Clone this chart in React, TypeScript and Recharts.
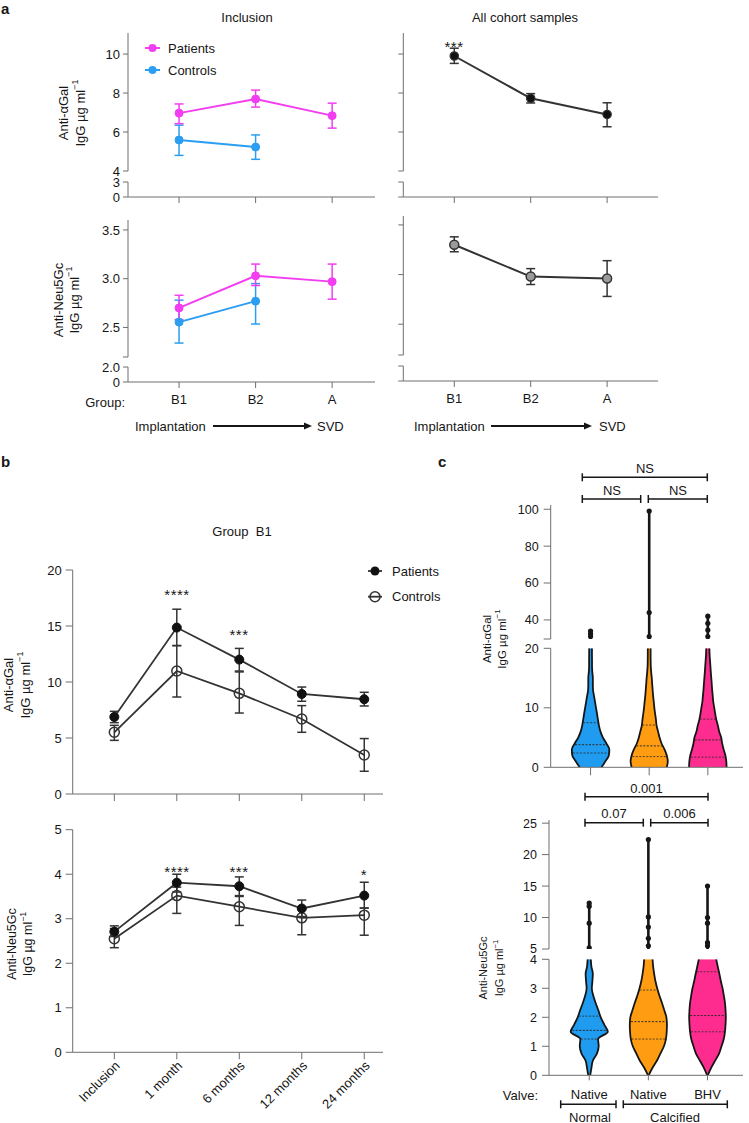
import React from 'react';
import { ComposedChart, Line, Area, Scatter, XAxis, YAxis, ErrorBar, ReferenceLine } from 'recharts';

const FONT = '"Liberation Sans", Arial, Helvetica, sans-serif';
const INK = '#161616';
const AXIS = '#6e6e6e';
const DARK = '#333333';
const MAGENTA = '#f23ef0';
const SKY = '#2b9ef2';
const V_BLUE = '#1f9bf0';
const V_ORANGE = '#ff9c12';
const V_PINK = '#ff2c90';
const TICK = { fill: INK, fontSize: 13, fontFamily: FONT };
const TICK_C = { fill: INK, fontSize: 12.5, fontFamily: FONT };

// ---- panel a: inclusion / all cohort samples ----
const groupsA = ['B1', 'B2', 'A'];
const patientsGal = [6.97, 7.69, 6.84];
const patientsGalLow = [6.43, 7.28, 6.2];
const patientsGalHigh = [7.44, 8.15, 7.48];
const controlsGal = [5.59, 5.23, null];
const controlsGalLow = [4.8, 4.6, null];
const controlsGalHigh = [6.35, 5.85, null];
const cohortGal = [9.9, 7.73, 6.9];
const cohortGalLow = [9.52, 7.49, 6.27];
const cohortGalHigh = [10.3, 7.97, 7.5];

const patientsGc = [2.7, 3.03, 2.97];
const patientsGcLow = [2.58, 2.93, 2.79];
const patientsGcHigh = [2.83, 3.15, 3.15];
const controlsGc = [2.555, 2.77, null];
const controlsGcLow = [2.34, 2.535, null];
const controlsGcHigh = [2.78, 2.95, null];
const cohortGc = [3.3, 2.98, 2.96];
const cohortGcLow = [3.23, 2.9, 2.78];
const cohortGcHigh = [3.38, 3.06, 3.14];

// ---- panel b: group B1 follow-up ----
const timepoints = ['Inclusion', '1 month', '6 months', '12 months', '24 months'];
const patientsGalB1 = [6.88, 14.86, 12.0, 8.93, 8.46];
const patientsGalB1Low = [6.37, 13.25, 10.98, 8.28, 7.86];
const patientsGalB1High = [7.38, 16.5, 13.0, 9.55, 9.08];
const controlsGalB1 = [5.51, 10.98, 8.99, 6.7, 3.48];
const controlsGalB1Low = [4.79, 8.66, 7.23, 5.51, 2.03];
const controlsGalB1High = [6.13, 13.25, 10.9, 7.89, 4.95];
const patientsGcB1 = [2.71, 3.81, 3.73, 3.23, 3.52];
const patientsGcB1Low = [2.6, 3.6, 3.52, 3.05, 3.24];
const patientsGcB1High = [2.84, 4.0, 3.94, 3.42, 3.82];
const controlsGcB1 = [2.55, 3.52, 3.27, 3.02, 3.08];
const controlsGcB1Low = [2.35, 3.12, 2.85, 2.64, 2.63];
const controlsGcB1High = [2.78, 3.71, 3.5, 3.22, 3.24];

// ---- panel c: violins (half widths in category units) ----
const valves = ['Native', 'Native', 'BHV'];
const galLevels = [0, 1, 2, 3, 4, 5, 6, 7, 8, 9, 10, 11, 12, 13, 14, 15, 16, 17, 18, 19, 20];
const galBlueW = [0.186, 0.253, 0.312, 0.32, 0.27, 0.211, 0.169, 0.143, 0.126, 0.11, 0.093, 0.076, 0.059, 0.042, 0.039, 0.039, 0.03, 0.025, 0.025, 0.024, 0.024];
const galOrangeW = [0.3, 0.317, 0.3, 0.261, 0.211, 0.177, 0.152, 0.126, 0.115, 0.101, 0.088, 0.078, 0.067, 0.059, 0.051, 0.044, 0.034, 0.027, 0.025, 0.024, 0.024];
const galPinkW = [0.32, 0.315, 0.3, 0.27, 0.245, 0.228, 0.194, 0.172, 0.145, 0.126, 0.11, 0.093, 0.084, 0.074, 0.067, 0.059, 0.051, 0.044, 0.037, 0.03, 0.027];
const galQuartiles = [[2.4, 3.8, 7.5], [1.8, 3.6, 7.1], [1.7, 4.6, 8.1]];
const galTailMax = [34, 99, 42.7];
const galOutliers = [[31, 32.5, 34], [31, 44, 99], [31, 34.5, 38.2, 42]];

const gcLevels = [0, 0.25, 0.5, 0.75, 1, 1.25, 1.5, 1.75, 2, 2.25, 2.5, 2.75, 3, 3.25, 3.5, 3.75, 4];
const gcBlueW = [0.017, 0.037, 0.061, 0.13, 0.16, 0.15, 0.314, 0.254, 0.195, 0.153, 0.107, 0.068, 0.044, 0.054, 0.061, 0.037, 0.027];
const gcOrangeW = [0.005, 0.068, 0.144, 0.203, 0.263, 0.297, 0.31, 0.314, 0.305, 0.268, 0.229, 0.186, 0.149, 0.119, 0.098, 0.081, 0.071];
const gcPinkW = [0.005, 0.059, 0.127, 0.195, 0.237, 0.275, 0.295, 0.305, 0.31, 0.305, 0.295, 0.276, 0.254, 0.225, 0.2, 0.173, 0.147];
const gcQuartiles = [[1.25, 1.55, 2.04], [1.25, 1.85, 2.94], [1.5, 2.06, 3.57]];
const gcTailMax = [12.5, 22.4, 15];
const gcOutliers = [[5.2, 9.1, 11.8, 12.3], [5.5, 6.7, 8.5, 10.1, 22.4], [5.5, 6, 9.1, 10, 15]];

function err(v: number | null, lo: number | null, hi: number | null) {
  return v == null || lo == null || hi == null ? null : [+(v - lo).toFixed(3), +(hi - v).toFixed(3)];
}

const aRows = groupsA.map((g, i) => ({
  x: i + 1,
  patientsGal: patientsGal[i], patientsGalErr: err(patientsGal[i], patientsGalLow[i], patientsGalHigh[i]),
  controlsGal: controlsGal[i], controlsGalErr: err(controlsGal[i], controlsGalLow[i], controlsGalHigh[i]),
  cohortGal: cohortGal[i], cohortGalErr: err(cohortGal[i], cohortGalLow[i], cohortGalHigh[i]),
  patientsGc: patientsGc[i], patientsGcErr: err(patientsGc[i], patientsGcLow[i], patientsGcHigh[i]),
  controlsGc: controlsGc[i], controlsGcErr: err(controlsGc[i], controlsGcLow[i], controlsGcHigh[i]),
  cohortGc: cohortGc[i], cohortGcErr: err(cohortGc[i], cohortGcLow[i], cohortGcHigh[i]),
}));

const bRows = timepoints.map((t, i) => ({
  x: i,
  pGal: patientsGalB1[i], pGalErr: err(patientsGalB1[i], patientsGalB1Low[i], patientsGalB1High[i]),
  cGal: controlsGalB1[i], cGalErr: err(controlsGalB1[i], controlsGalB1Low[i], controlsGalB1High[i]),
  pGc: patientsGcB1[i], pGcErr: err(patientsGcB1[i], patientsGcB1Low[i], patientsGcB1High[i]),
  cGc: controlsGcB1[i], cGcErr: err(controlsGcB1[i], controlsGcB1Low[i], controlsGcB1High[i]),
}));

function violinRows(levels: number[], blue: number[], orange: number[], pink: number[]) {
  return levels.map((v, i) => ({
    v,
    blue: [1 - blue[i], 1 + blue[i]],
    orange: [2 - orange[i], 2 + orange[i]],
    pink: [3 - pink[i], 3 + pink[i]],
  }));
}
const galRows = violinRows(galLevels, galBlueW, galOrangeW, galPinkW);
const gcRows = violinRows(gcLevels, gcBlueW, gcOrangeW, gcPinkW);

function widthAt(levels: number[], widths: number[], q: number) {
  for (let i = 0; i < levels.length - 1; i++) {
    if (q >= levels[i] && q <= levels[i + 1]) {
      const t = (q - levels[i]) / (levels[i + 1] - levels[i]);
      return widths[i] + t * (widths[i + 1] - widths[i]);
    }
  }
  return 0;
}

type FrameProps = {
  left: number; top: number; width: number; height: number;
  mt: number; mr: number; mb?: number;
  yWidth: number; yDomain: [number, number]; yTicks: number[]; yFmt?: (v: number) => string;
  yTickSize?: number; yTickMargin?: number; yTick?: any;
  xDomain: [number, number]; xTicks?: number[]; xFmt?: (v: number) => string; xHeight?: number;
  xTickSize?: number; xTickMargin?: number; xTick?: any;
  data?: any[]; vertical?: boolean; children?: React.ReactNode;
};

function Frame(p: FrameProps) {
  const showX = p.xHeight !== undefined;
  return (
    <div style={{ position: 'absolute', left: p.left, top: p.top }}>
      <ComposedChart width={p.width} height={p.height} data={p.data ?? []} layout={p.vertical ? 'vertical' : 'horizontal'}
        margin={{ top: p.mt, right: p.mr, bottom: p.mb ?? 0, left: 0 }}>
        <XAxis type="number" dataKey="x" domain={p.xDomain} allowDataOverflow ticks={p.xTicks ?? []} interval={0}
          hide={!showX} height={p.xHeight ?? 0} stroke={AXIS} tickSize={p.xTickSize ?? 6} tickMargin={p.xTickMargin ?? 7}
          tick={p.xTick ?? TICK} tickFormatter={p.xFmt ?? (() => '')} />
        <YAxis type="number" dataKey={p.vertical ? 'v' : undefined} reversed={!!p.vertical} domain={p.yDomain}
          allowDataOverflow ticks={p.yTicks} interval={0} width={p.yWidth} stroke={AXIS}
          tickSize={p.yTickSize ?? 5} tickMargin={p.yTickMargin ?? 3} tick={p.yTick ?? TICK} tickFormatter={p.yFmt} />
        {p.children}
      </ComposedChart>
    </div>
  );
}

function dataLine(key: string, color: string, dot: any, width = 2) {
  return (
    <Line key={key} dataKey={key} stroke={color} strokeWidth={width} dot={dot} activeDot={false} isAnimationActive={false}>
      <ErrorBar dataKey={key + 'Err'} direction="y" width={4.5} stroke={color} strokeWidth={1.5} />
    </Line>
  );
}

function violinAreas() {
  return [V_BLUE, V_ORANGE, V_PINK].map((c, k) => (
    <Area key={'va' + k} type="monotone" dataKey={['blue', 'orange', 'pink'][k]} fill={c} fillOpacity={1}
      stroke={INK} strokeWidth={1.8} dot={false} activeDot={false} isAnimationActive={false} />
  ));
}

function quartileLines(levels: number[], widthSets: number[][], quartiles: number[][]) {
  return widthSets.flatMap((w, k) =>
    quartiles[k].map((q, j) => {
      const hw = widthAt(levels, w, q) * 0.95;
      return (
        <ReferenceLine key={`q${k}-${j}`} segment={[{ x: k + 1 - hw, y: q }, { x: k + 1 + hw, y: q }]}
          stroke="#2a2a2a" strokeDasharray="2 1.5" strokeWidth={j === 1 ? 1 : 0.8} />
      );
    }),
  );
}

function tails(bottom: number, maxes: number[], outliers: number[][]) {
  return maxes.flatMap((m, k) => [
    <Scatter key={'t' + k} data={[{ x: k + 1, v: bottom }, { x: k + 1, v: m }]} line={{ stroke: INK, strokeWidth: 2.6 }}
      shape={() => <g />} isAnimationActive={false} />,
    <Scatter key={'o' + k} data={outliers[k].map((v) => ({ x: k + 1, v }))}
      shape={(s: any) => <circle cx={s.cx} cy={s.cy} r={2.6} fill={INK} />} isAnimationActive={false} />,
  ]);
}

function RotTick(props: any) {
  const { x, y, payload } = props;
  return (
    <g transform={`translate(${x + 3},${y + 2})`}>
      <text textAnchor="end" dy="0.35em" transform="rotate(-45)" fontSize={13} fill={INK} fontFamily={FONT}>
        {timepoints[payload.value]}
      </text>
    </g>
  );
}

const hideLabel = () => '';
const fix1 = (v: number) => v.toFixed(1);

function Bracket({ x1, x2, y }: { x1: number; x2: number; y: number }) {
  return (
    <g stroke={INK} strokeWidth={1.5}>
      <line x1={x1} y1={y} x2={x2} y2={y} />
      <line x1={x1} y1={y - 4} x2={x1} y2={y + 4} />
      <line x1={x2} y1={y - 4} x2={x2} y2={y + 4} />
    </g>
  );
}

function Arrow({ x1, x2, y }: { x1: number; x2: number; y: number }) {
  return (
    <g>
      <line x1={x1} y1={y} x2={x2 - 6} y2={y} stroke={INK} strokeWidth={1.8} />
      <polygon points={`${x2},${y} ${x2 - 8},${y - 3.5} ${x2 - 8},${y + 3.5}`} fill={INK} />
    </g>
  );
}

function VLabel({ x, y, size, children }: { x: number; y: number; size: number; children: React.ReactNode }) {
  return (
    <text x={x} y={y} transform={`rotate(-90 ${x} ${y})`} textAnchor="middle" dominantBaseline="central" fontSize={size}>
      {children}
    </text>
  );
}

function Unit({ size }: { size: number }) {
  return (
    <>
      IgG µg ml<tspan dy={-size * 0.38} fontSize={size * 0.7}>−1</tspan>
    </>
  );
}

function Txt({ x, y, children, size = 13, anchor = 'middle', weight = 400 }: any) {
  return (
    <text x={x} y={y} fontSize={size} textAnchor={anchor} dominantBaseline="central" fontWeight={weight}>
      {children}
    </text>
  );
}

function Stars({ x, y, n }: { x: number; y: number; n: number }) {
  return (
    <text x={x} y={y + 8.5} fontSize={15} textAnchor="middle" letterSpacing={0.5}>{'*'.repeat(n)}</text>
  );
}

const xDomA: [number, number] = [0.333, 3.56];
const xDomAR: [number, number] = [0.333, 3.666];
const xDomB: [number, number] = [-0.666, 4.3];
const xDomC: [number, number] = [0.32, 3.6];

export default function App() {
  const patDot = { r: 4, fill: MAGENTA, stroke: MAGENTA, strokeWidth: 1 };
  const conDot = { r: 4, fill: SKY, stroke: SKY, strokeWidth: 1 };
  const cohortDot = { r: 4.2, fill: '#111', stroke: DARK, strokeWidth: 1.2 };
  const cohortGcDot = { r: 4.5, fill: '#9a9a9a', stroke: DARK, strokeWidth: 1.5 };
  const bPatDot = { r: 4.5, fill: '#111', stroke: '#111', strokeWidth: 1 };
  const bConDot = { r: 5, fill: 'none', stroke: DARK, strokeWidth: 1.5 };

  return (
    <div style={{ position: 'absolute', left: 0, top: 0, width: 749, height: 1123, background: '#fff', overflow: 'hidden', fontFamily: FONT }}>
      {/* a: anti-αGal, inclusion */}
      <Frame left={0} top={0} width={380} height={181} mt={33} mr={5} mb={10} yWidth={128}
        yDomain={[4, 11.08]} yTicks={[4, 6, 8, 10]} xDomain={xDomA} data={aRows}>
        {dataLine('controlsGal', SKY, conDot)}
        {dataLine('patientsGal', MAGENTA, patDot)}
      </Frame>
      <Frame left={0} top={172} width={380} height={46} mt={10} mr={5} yWidth={128}
        yDomain={[0, 3]} yTicks={[0, 3]} xDomain={xDomA} xTicks={[1, 2, 3]} xHeight={21} />
      {/* a: anti-αGal, all cohort */}
      <Frame left={375} top={0} width={290} height={181} mt={33} mr={7} mb={10} yWidth={28.3}
        yDomain={[4, 11.08]} yTicks={[4, 6, 8, 10]} yFmt={hideLabel} xDomain={xDomAR} data={aRows}>
        {dataLine('cohortGal', DARK, cohortDot)}
      </Frame>
      <Frame left={375} top={172} width={290} height={46} mt={10} mr={7} yWidth={28.3}
        yDomain={[0, 3]} yTicks={[0, 3]} yFmt={hideLabel} xDomain={xDomAR} xTicks={[1, 2, 3]} xHeight={21} />

      {/* a: anti-Neu5Gc, inclusion */}
      <Frame left={0} top={200} width={380} height={166} mt={20} mr={5} mb={9} yWidth={128}
        yDomain={[2.197, 3.602]} yTicks={[2.197, 2.5, 3.0, 3.5]} yFmt={(v) => (v < 2.3 ? '' : fix1(v))}
        xDomain={xDomA} data={aRows}>
        {dataLine('controlsGc', SKY, conDot)}
        {dataLine('patientsGc', MAGENTA, patDot)}
      </Frame>
      <Frame left={0} top={357} width={380} height={66} mt={10} mr={5} yWidth={128}
        yDomain={[0, 2]} yTicks={[0, 2]} yFmt={(v) => (v === 0 ? '0' : fix1(v))}
        xDomain={xDomA} xTicks={[1, 2, 3]} xHeight={41} xFmt={(v) => groupsA[v - 1] ?? ''} />
      {/* a: anti-Neu5Gc, all cohort */}
      <Frame left={375} top={196} width={290} height={166} mt={20} mr={7} mb={7} yWidth={28.3}
        yDomain={[2.19, 3.59]} yTicks={[2.19, 2.5, 3.0, 3.5]} yFmt={hideLabel} xDomain={xDomAR} data={aRows}>
        {dataLine('cohortGc', DARK, cohortGcDot)}
      </Frame>
      <Frame left={375} top={355.7} width={290} height={66} mt={10} mr={7} yWidth={28.3}
        yDomain={[0, 2]} yTicks={[0, 2]} yFmt={hideLabel}
        xDomain={xDomAR} xTicks={[1, 2, 3]} xHeight={41} xFmt={(v) => groupsA[v - 1] ?? ''} />

      {/* b */}
      <Frame left={0} top={540} width={390} height={270} mt={30} mr={7} yWidth={72.7} yTickSize={7} yTickMargin={4}
        yDomain={[0, 20]} yTicks={[0, 5, 10, 15, 20]} xDomain={xDomB} xTicks={[0, 1, 2, 3, 4]} xHeight={16}
        xTickSize={7} data={bRows}>
        {dataLine('cGal', DARK, bConDot, 1.8)}
        {dataLine('pGal', DARK, bPatDot, 1.8)}
      </Frame>
      <Frame left={0} top={810} width={390} height={313} mt={19.7} mr={7} yWidth={72.7} yTickSize={7} yTickMargin={4}
        yDomain={[0, 5]} yTicks={[0, 1, 2, 3, 4, 5]} xDomain={xDomB} xTicks={[0, 1, 2, 3, 4]} xHeight={70.7}
        xTickSize={7} xTickMargin={2} xTick={<RotTick />} data={bRows}>
        {dataLine('cGc', DARK, bConDot, 1.8)}
        {dataLine('pGc', DARK, bPatDot, 1.8)}
      </Frame>

      {/* c: anti-αGal violins */}
      <Frame vertical left={470} top={495} width={279} height={150} mt={10} mr={6} mb={6} yWidth={80.7}
        yTickSize={7} yTickMargin={5} yTick={TICK_C} yDomain={[29.65, 102.3]} yTicks={[29.65, 40, 60, 80, 100]}
        yFmt={(v) => (v < 35 ? '' : String(v))} xDomain={xDomC}>
        {tails(29.65, galTailMax, galOutliers)}
      </Frame>
      <Frame vertical left={470} top={636} width={279} height={143.3} mt={12.3} mr={6} yWidth={80.7}
        yTickSize={7} yTickMargin={5} yTick={TICK_C} yDomain={[0, 20]} yTicks={[0, 10, 20]} xDomain={xDomC}
        xTicks={[1, 2, 3]} xHeight={12} xTickSize={8} data={galRows}>
        {violinAreas()}
        {quartileLines(galLevels, [galBlueW, galOrangeW, galPinkW], galQuartiles)}
      </Frame>

      {/* c: anti-Neu5Gc violins */}
      <Frame vertical left={470} top={812} width={279} height={144} mt={8} mr={6} mb={7} yWidth={79}
        yTickSize={7} yTickMargin={5} yTick={TICK_C} yDomain={[5, 25.5]} yTicks={[5, 10, 15, 20, 25]} xDomain={xDomC}>
        {tails(5, gcTailMax, gcOutliers)}
      </Frame>
      <Frame vertical left={470} top={948} width={279} height={175} mt={11.3} mr={6} yWidth={79}
        yTickSize={7} yTickMargin={5} yTick={TICK_C} yDomain={[0, 4]} yTicks={[0, 1, 2, 3, 4]} xDomain={xDomC}
        xTicks={[1, 2, 3]} xHeight={47.7} xTickSize={5} xTickMargin={9} xFmt={(v) => valves[v - 1] ?? ''} data={gcRows}>
        {violinAreas()}
        {quartileLines(gcLevels, [gcBlueW, gcOrangeW, gcPinkW], gcQuartiles)}
      </Frame>

      <svg width={749} height={1123} style={{ position: 'absolute', left: 0, top: 0, pointerEvents: 'none' }}
        fontFamily={FONT} fill={INK}>
        <text x={1} y={14} fontSize={15} fontWeight={700}>a</text>
        <text x={1} y={466.7} fontSize={15} fontWeight={700}>b</text>
        <text x={438} y={466.7} fontSize={15} fontWeight={700}>c</text>

        <Txt x={247} y={17}>Inclusion</Txt>
        <Txt x={525} y={17}>All cohort samples</Txt>
        <g>
          <line x1={145} y1={48} x2={160} y2={48} stroke={MAGENTA} strokeWidth={2} />
          <circle cx={152.5} cy={48} r={4} fill={MAGENTA} />
          <line x1={145} y1={70} x2={160} y2={70} stroke={SKY} strokeWidth={2} />
          <circle cx={152.5} cy={70} r={4} fill={SKY} />
        </g>
        <Txt x={168} y={48} anchor="start">Patients</Txt>
        <Txt x={168} y={70} anchor="start">Controls</Txt>
        <Stars x={454} y={43} n={3} />

        <VLabel x={63} y={113} size={13}>Anti-αGal</VLabel>
        <VLabel x={80} y={113} size={13}><Unit size={13} /></VLabel>
        <VLabel x={58} y={300} size={13}>Anti-Neu5Gc</VLabel>
        <VLabel x={74} y={300} size={13}><Unit size={13} /></VLabel>

        <Txt x={125} y={402} anchor="end">Group:</Txt>
        <Txt x={135} y={426} anchor="start">Implantation</Txt>
        <Arrow x1={213} x2={312} y={426} />
        <Txt x={317} y={426} anchor="start">SVD</Txt>
        <Txt x={414} y={426} anchor="start">Implantation</Txt>
        <Arrow x1={491} x2={592} y={426} />
        <Txt x={599} y={426} anchor="start">SVD</Txt>

        <Txt x={242} y={531}>{'Group\u00a0\u00a0B1'}</Txt>
        <g>
          <line x1={368} y1={571} x2={382} y2={571} stroke={DARK} strokeWidth={1.8} />
          <circle cx={375} cy={571} r={4.5} fill="#111" />
          <line x1={368} y1={596.7} x2={382} y2={596.7} stroke={DARK} strokeWidth={1.8} />
          <circle cx={375} cy={596.7} r={5} fill="none" stroke={DARK} strokeWidth={1.5} />
        </g>
        <Txt x={392} y={571} anchor="start">Patients</Txt>
        <Txt x={392} y={596.7} anchor="start">Controls</Txt>
        <Stars x={177} y={591.7} n={4} />
        <Stars x={239} y={631} n={3} />
        <Stars x={177} y={868} n={4} />
        <Stars x={239} y={868} n={3} />
        <Stars x={364} y={871.7} n={1} />
        <VLabel x={8} y={685} size={13}>Anti-αGal</VLabel>
        <VLabel x={25} y={685} size={13}><Unit size={13} /></VLabel>
        <VLabel x={12} y={944} size={12.5}>Anti-Neu5Gc</VLabel>
        <VLabel x={28} y={944} size={12.5}><Unit size={12.5} /></VLabel>

        <Txt x={645} y={468.3}>NS</Txt>
        <Bracket x1={582.3} x2={707.3} y={477.3} />
        <Txt x={612} y={490}>NS</Txt>
        <Txt x={678} y={490}>NS</Txt>
        <Bracket x1={582.3} x2={640.7} y={499} />
        <Bracket x1={648.3} x2={707.3} y={499} />
        <Txt x={646.5} y={788.3}>0.001</Txt>
        <Bracket x1={585} x2={708} y={796.7} />
        <Txt x={614} y={813.3}>0.07</Txt>
        <Txt x={679.5} y={813.3}>0.006</Txt>
        <Bracket x1={585} x2={643.3} y={822.7} />
        <Bracket x1={650.7} x2={708} y={822.7} />
        <VLabel x={486.7} y={639} size={11.5}>Anti-αGal</VLabel>
        <VLabel x={501.7} y={639} size={11.5}><Unit size={11.5} /></VLabel>
        <VLabel x={483.3} y={968} size={11}>Anti-Neu5Gc</VLabel>
        <VLabel x={499} y={968} size={11}><Unit size={11} /></VLabel>
        <Txt x={538} y={1095} anchor="end">Valve:</Txt>
        <Bracket x1={560.7} x2={616} y={1104.3} />
        <Bracket x1={623.3} x2={727.3} y={1104.3} />
        <Txt x={590} y={1117}>Normal</Txt>
        <Txt x={675} y={1117}>Calcified</Txt>
      </svg>
    </div>
  );
}
